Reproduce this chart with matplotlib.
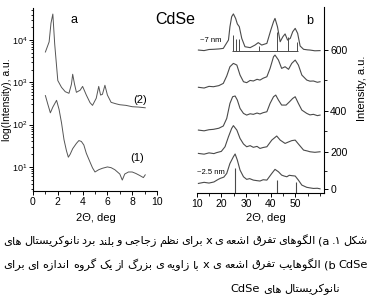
import matplotlib
matplotlib.use("Agg")
import matplotlib.pyplot as plt
from matplotlib.ticker import FixedLocator, NullFormatter

W, H = 372, 306

# ---- panel a: small/wide angle XRD, log scale ----
a1_x = [1.0, 1.2, 1.4, 1.6, 1.9, 2.1, 2.3, 2.5, 2.7, 2.85, 3.0, 3.2, 3.5, 3.7, 3.9, 4.1,
        4.3, 4.6, 4.8, 5.0, 5.3, 5.6, 6.0, 6.3, 6.6, 7.0, 7.2, 7.4, 7.7, 8.0, 8.3, 8.6, 8.9, 9.05]
a1_y = [485, 300, 190, 260, 375, 230, 110, 44, 24, 17, 20, 27, 36, 42, 40, 33,
        21, 13, 9.5, 7.6, 8.6, 9.3, 10, 9.6, 8.6, 6.8, 4.9, 6.8, 7.6, 7.6, 7.0, 6.3, 5.6, 6.5]
a2_x = [1.0, 1.3, 1.45, 1.6, 1.75, 2.0, 2.3, 2.6, 2.9, 3.1, 3.2, 3.35, 3.5, 3.8, 4.0, 4.3,
        4.6, 4.8, 5.1, 5.3, 5.45, 5.6, 5.8, 6.0, 6.3, 6.7, 7.0, 7.5, 8.0, 8.5, 9.05]
a2_y = [5200, 9000, 25000, 41000, 8000, 1100, 760, 600, 550, 900, 1550, 900, 580, 650, 800, 500,
        330, 285, 420, 800, 500, 520, 850, 500, 336, 310, 295, 285, 265, 260, 250]

# ---- panel b: wide angle XRD, stacked ----
b1_x = [10.7, 13, 15, 17, 18.5, 19.5, 21, 22.2, 23.5, 24.9, 25.6, 26.5, 27.6, 29, 30.3, 31.5, 33,
        34.5, 35.7, 37, 38.5, 40.5, 41.8, 43.2, 44.5, 45.5, 46.6, 47.6, 48.6, 50, 51.3, 52.7, 54.7,
        56, 57.4, 59, 60.1]
b1_y = [32, 38, 34, 40, 52, 59, 66, 86, 140, 176, 191, 158, 104, 68, 54, 58, 50,
        47, 45, 52, 50, 86, 108, 95, 77, 72, 68, 76, 74, 72, 50, 23, 11,
        8, 5, 6, 3]
b2_x = [10.7, 13, 15, 17, 18, 20, 21.5, 22.9, 24.2, 24.9, 26.3, 27.6, 29, 30.3, 31.7, 33, 34.5,
        35.7, 37, 38.5, 40.5, 42.5, 43.9, 45.9, 47.3, 48.6, 50, 51.3, 53.4, 55, 56, 58, 60.1]
b2_y = [194, 190, 197, 193, 198, 205, 230, 284, 329, 344, 320, 275, 245, 230, 236, 227, 232,
        221, 226, 230, 266, 288, 266, 248, 256, 263, 266, 245, 212, 207, 203, 200, 203]
b3_x = [10.7, 13, 15, 16.8, 19, 20.8, 22.2, 23.5, 24.6, 25.6, 26.5, 27.6, 29, 30.3, 31.7, 33, 34.5,
        35.7, 37, 38.5, 39.8, 41.2, 42.1, 43.2, 44.5, 46.3, 47.7, 49, 50, 51.3, 52.7, 54.7, 56,
        57.4, 59, 60.1]
b3_y = [320, 316, 322, 324, 330, 342, 383, 464, 500, 504, 482, 437, 410, 401, 408, 405, 412,
        407, 414, 419, 464, 500, 509, 482, 455, 455, 473, 491, 500, 464, 428, 410, 402,
        405, 398, 401]
b4_x = [10.7, 13, 15, 16.8, 19, 20.8, 22.2, 23.5, 24.9, 26.3, 27.6, 29, 30.3, 31.7, 33, 34.5,
        35.7, 37, 38.5, 39.8, 41.2, 41.8, 43.2, 44.5, 45.9, 47.3, 48.6, 50, 51.3, 52.7, 54.7,
        56, 57.4, 59, 60.1]
b4_y = [551, 547, 556, 554, 560, 572, 612, 662, 680, 671, 617, 581, 576, 588, 585, 594,
        590, 600, 608, 653, 716, 725, 698, 653, 662, 648, 680, 698, 671, 617, 590,
        584, 585, 578, 581]
b5_x = [10.7, 13, 15, 16.8, 19, 20.8, 22.9, 23.5, 24.2, 24.9, 25.8, 26.5, 27.3, 28.3, 29.6, 31.7,
        33.7, 35, 36.4, 38.5, 40.1, 41.2, 41.8, 42.8, 43.9, 45, 45.9, 46.9, 48, 49, 50, 51, 52,
        53.4, 55, 56, 58, 60.1]
b5_y = [752, 749, 755, 756, 758, 761, 806, 878, 932, 947, 923, 893, 878, 815, 770, 765,
        779, 792, 779, 788, 860, 905, 923, 878, 797, 824, 839, 806, 815, 851, 869, 842, 774,
        756, 753, 752, 748, 749]

# reference stick patterns
wz_pos = [24.6, 25.9, 27.3, 35.1, 42.5, 46.9, 50.7]
wz_top = [833, 810, 810, 774, 851, 824, 797]
wz_base = 749
zb_pos = [25.6, 42.5, 50.3]
zb_top = [113, 50, 41]

b_ticks = [0, 203, 424, 752]
b_tick_labels = ["0", "200", "400", "600"]

# ---- caption (tokens in visual right-to-left order) ----
cap_line1 = ["شکل", ".۱", "(a", "الگوهای", "تفرق", "اشعه", "ی", "x", "برای", "نظم",
             "زجاجی", "و", "بلند", "برد", "نانوکریستال", "های"]
cap_line2 = ["CdSe", "(b", "الگوهایب", "تفرق", "اشعه", "ی", "x", "با", "زاویه", "ی",
             "بزرگ", "از", "یک", "گروه", "اندازه", "ای", "برای"]
cap_line3 = ["نانوکریستال", "های", "CdSe"]

FORMS = {
    'ا': ('\uFE8D', '\uFE8E', None, None),
    'ب': ('\uFE8F', '\uFE90', '\uFE91', '\uFE92'),
    'ت': ('\uFE95', '\uFE96', '\uFE97', '\uFE98'),
    'ج': ('\uFE9D', '\uFE9E', '\uFE9F', '\uFEA0'),
    'د': ('\uFEA9', '\uFEAA', None, None),
    'ر': ('\uFEAD', '\uFEAE', None, None),
    'ز': ('\uFEAF', '\uFEB0', None, None),
    'س': ('\uFEB1', '\uFEB2', '\uFEB3', '\uFEB4'),
    'ش': ('\uFEB5', '\uFEB6', '\uFEB7', '\uFEB8'),
    'ظ': ('\uFEC5', '\uFEC6', '\uFEC7', '\uFEC8'),
    'ع': ('\uFEC9', '\uFECA', '\uFECB', '\uFECC'),
    'ف': ('\uFED1', '\uFED2', '\uFED3', '\uFED4'),
    'ق': ('\uFED5', '\uFED6', '\uFED7', '\uFED8'),
    'ل': ('\uFEDD', '\uFEDE', '\uFEDF', '\uFEE0'),
    'م': ('\uFEE1', '\uFEE2', '\uFEE3', '\uFEE4'),
    'ن': ('\uFEE5', '\uFEE6', '\uFEE7', '\uFEE8'),
    'ه': ('\uFEE9', '\uFEEA', '\uFEEB', '\uFEEC'),
    'و': ('\uFEED', '\uFEEE', None, None),
    'ک': ('\uFB8E', '\uFB8F', '\uFB90', '\uFB91'),
    'گ': ('\uFB92', '\uFB93', '\uFB94', '\uFB95'),
    'ی': ('\uFBFC', '\uFBFD', '\uFBFE', '\uFBFF'),
}


def shape(word):
    """Join Persian letters into presentation forms and reverse for LTR drawing."""
    if not any(c in FORMS for c in word):
        return word
    out = []
    n = len(word)
    for i, c in enumerate(word):
        if c not in FORMS:
            out.append(c)
            continue
        f = FORMS[c]
        prev_join = i > 0 and word[i - 1] in FORMS and FORMS[word[i - 1]][2] is not None
        next_join = i < n - 1 and word[i + 1] in FORMS and f[2] is not None
        if prev_join and next_join:
            out.append(f[3])
        elif prev_join:
            out.append(f[1])
        elif next_join:
            out.append(f[2])
        else:
            out.append(f[0])
    return "".join(reversed(out))


def px(x, y):
    return x / W, 1 - y / H


plt.rcParams["font.family"] = ["Liberation Sans", "DejaVu Sans"]
plt.rcParams["axes.linewidth"] = 0.8
fig = plt.figure(figsize=(W / 100, H / 100), dpi=100)
fig.patch.set_facecolor("white")
line_col = "#4a4a4a"

# panel a
ax_a = fig.add_axes([33 / W, 1 - 191 / H, 124 / W, 183 / H])
ax_a.plot(a2_x, a2_y, color="#555555", lw=0.7)
ax_a.plot(a1_x, a1_y, color="#555555", lw=0.7)
ax_a.set_yscale("log")
ax_a.set_xlim(0, 10)
ax_a.set_ylim(2.7, 5.7e4)
ax_a.set_xticks([0, 2, 4, 6, 8, 10])
ax_a.xaxis.set_minor_locator(FixedLocator([1, 3, 5, 7, 9]))
ax_a.set_yticks([10, 100, 1000, 10000])
ax_a.yaxis.set_minor_formatter(NullFormatter())
for s in ["top", "right"]:
    ax_a.spines[s].set_visible(False)
ax_a.tick_params(axis="x", labelsize=7.5, length=3, width=0.7, pad=1.5)
ax_a.tick_params(axis="y", labelsize=6.5, length=3, width=0.7, pad=1)
ax_a.tick_params(which="minor", length=1.8, width=0.6)
ax_a.patch.set_alpha(0)
ax_a.text(8.6, 380, "(2)", fontsize=8, ha="center", va="center")
ax_a.text(8.4, 16, "(1)", fontsize=8, ha="center", va="center")

# panel b
ax_b = fig.add_axes([196.7 / W, 1 - 192.7 / H, 127.3 / W, 186 / H])
for xs, ys in [(b1_x, b1_y), (b2_x, b2_y), (b3_x, b3_y), (b4_x, b4_y), (b5_x, b5_y)]:
    ax_b.plot(xs, ys, color=line_col, lw=0.8)
ax_b.set_xlim(10, 61.7)
ax_b.set_ylim(-18, 986)
ax_b.vlines(wz_pos, wz_base, wz_top, color=line_col, lw=0.7)
ax_b.hlines(wz_base, min(wz_pos) - 0.4, max(wz_pos) + 0.4, color=line_col, lw=0.7)
ax_b.vlines(zb_pos, -18, zb_top, color=line_col, lw=0.8)
ax_b.set_xticks([10, 20, 30, 40, 50])
ax_b.xaxis.set_minor_locator(FixedLocator([15, 25, 35, 45, 55, 60]))
ax_b.yaxis.tick_right()
ax_b.set_yticks(b_ticks)
ax_b.set_yticklabels(b_tick_labels)
ax_b.yaxis.set_minor_locator(FixedLocator([(b_ticks[i] + b_ticks[i + 1]) / 2 for i in range(3)]))
for s in ["top", "left"]:
    ax_b.spines[s].set_visible(False)
ax_b.tick_params(labelsize=7.5, length=3, width=0.7, pad=1.5)
ax_b.tick_params(which="minor", length=1.8, width=0.6)
ax_b.patch.set_alpha(0)
ax_b.text(11.5, 782, "~7 nm", fontsize=5.5, ha="left", va="bottom")
ax_b.text(10.2, 70, "~2.5 nm", fontsize=5.5, ha="left", va="bottom")

# labels
fig.text(*px(7, 100), "log(Intensity), a.u.", rotation=90, fontsize=7.5, ha="center", va="center")
fig.text(*px(362, 88), "Intensity, a.u.", rotation=90, fontsize=8, ha="center", va="center")
fig.text(*px(96, 218), "2Θ, deg", fontsize=8, ha="center", va="center")
fig.text(*px(266, 218), "2Θ, deg", fontsize=8, ha="center", va="center")
fig.text(*px(74, 20), "a", fontsize=9, ha="center", va="center")
fig.text(*px(310, 21), "b", fontsize=9, ha="center", va="center")
fig.text(*px(175, 19), "CdSe", fontsize=11.5, ha="center", va="center")

# caption, justified right-to-left word placement
renderer = fig.canvas.get_renderer()


def draw_caption(tokens, y, left, right, justify, size=8.2):
    texts = [fig.text(0, 0, shape(t), fontsize=size, family=["DejaVu Sans"], va="center", ha="left")
             for t in tokens]
    widths = [t.get_window_extent(renderer).width for t in texts]
    if justify:
        gap = (right - left - sum(widths)) / (len(tokens) - 1)
    else:
        gap = 3.0
    x = right
    for t, w in zip(texts, widths):
        x -= w
        t.set_position(px(x, y))
        x -= gap


draw_caption(cap_line1, 241, 3, 368, True)
draw_caption(cap_line2, 265, 3, 368, True)
draw_caption(cap_line3, 289, 3, 340, False)

fig.savefig("out.png", dpi=100, facecolor="white")
